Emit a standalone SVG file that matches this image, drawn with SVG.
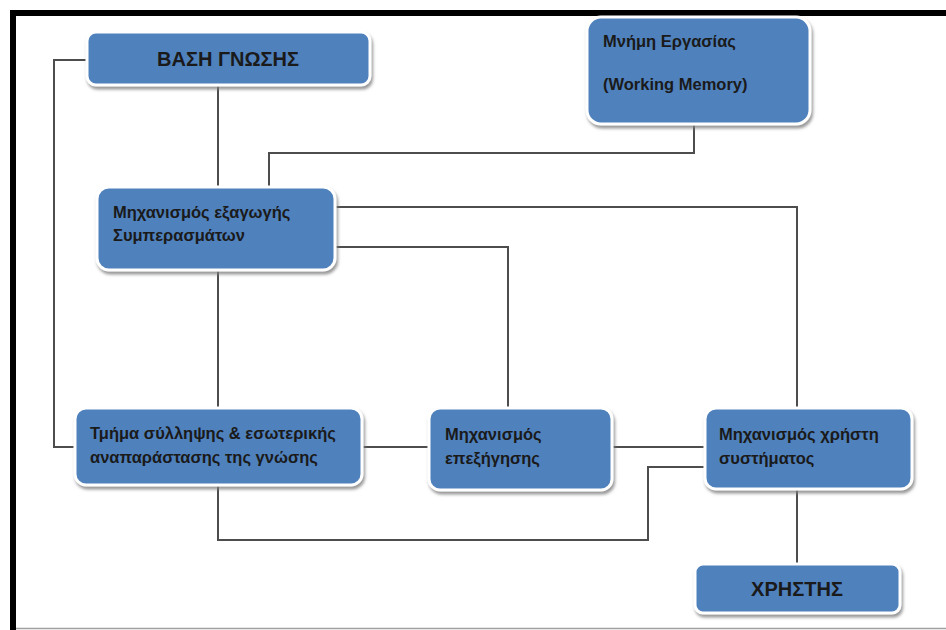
<svg xmlns="http://www.w3.org/2000/svg" width="946" height="630" viewBox="0 0 946 630">
  <defs>
    <filter id="sh" x="-10%" y="-10%" width="125%" height="135%">
      <feDropShadow dx="1.5" dy="3" stdDeviation="1.8" flood-color="#7f7f7f" flood-opacity="0.8"/>
    </filter>
  </defs>
  <style>
    .box { fill: #4f81bd; stroke: #ffffff; stroke-width: 3; filter: url(#sh); }
    .t { font-family: "Liberation Sans", Arial, sans-serif; font-weight: bold; fill: #1a1a1a; font-size: 16.5px; }
    .big { font-size: 20px; text-anchor: middle; }
    .c { fill: none; stroke: #4d4d4d; stroke-width: 2; }
  </style>
  <rect x="0" y="0" width="946" height="630" fill="#ffffff"/>
  <!-- frame -->
  <path d="M13 630 V13 H946" fill="none" stroke="#000000" stroke-width="6"/>
  <line x1="16" y1="628.5" x2="946" y2="628.5" stroke="#a0a0a0" stroke-width="1.5"/>

  <g id="connectors">
    <path class="c" d="M87 60 H54 V447 H75"/>
    <path class="c" d="M218 85 V187"/>
    <path class="c" d="M218 270 V408"/>
    <path class="c" d="M694 124 V153 H269 V187"/>
    <path class="c" d="M335 207 H797 V409"/>
    <path class="c" d="M335 247 H508 V409"/>
    <path class="c" d="M362 447 H429"/>
    <path class="c" d="M612 447 H705"/>
    <path class="c" d="M218 485 V540 H648 V467 H705"/>
    <path class="c" d="M797 489 V564"/>
  </g>

  <g id="n-vasi">
    <rect class="box" x="87" y="32" width="283" height="53" rx="9"/>
    <text class="t big" x="228" y="66">ΒΑΣΗ ΓΝΩΣΗΣ</text>
  </g>
  <g id="n-mnimi">
    <rect class="box" x="587" y="17" width="223" height="107" rx="14"/>
    <text class="t" x="603" y="47">Μνήμη Εργασίας</text>
    <text class="t" x="603" y="90">(Working Memory)</text>
  </g>
  <g id="n-exagogi">
    <rect class="box" x="97" y="187" width="238" height="83" rx="12"/>
    <text class="t" x="113" y="218">Μηχανισμός εξαγωγής</text>
    <text class="t" x="113" y="241">Συμπερασμάτων</text>
  </g>
  <g id="n-tmima">
    <rect class="box" x="75" y="408" width="287" height="77" rx="11"/>
    <text class="t" x="90" y="439">Τμήμα σύλληψης &amp; εσωτερικής</text>
    <text class="t" x="90" y="463">αναπαράστασης της γνώσης</text>
  </g>
  <g id="n-epexigisi">
    <rect class="box" x="429" y="408" width="183" height="82" rx="11"/>
    <text class="t" x="445" y="440">Μηχανισμός</text>
    <text class="t" x="445" y="464">επεξήγησης</text>
  </g>
  <g id="n-xristi">
    <rect class="box" x="705" y="408" width="207" height="81" rx="11"/>
    <text class="t" x="719" y="440">Μηχανισμός χρήστη</text>
    <text class="t" x="719" y="464">συστήματος</text>
  </g>
  <g id="n-xristis">
    <rect class="box" x="695" y="564" width="205" height="49" rx="8"/>
    <text class="t big" x="797" y="596">ΧΡΗΣΤΗΣ</text>
  </g>
</svg>
